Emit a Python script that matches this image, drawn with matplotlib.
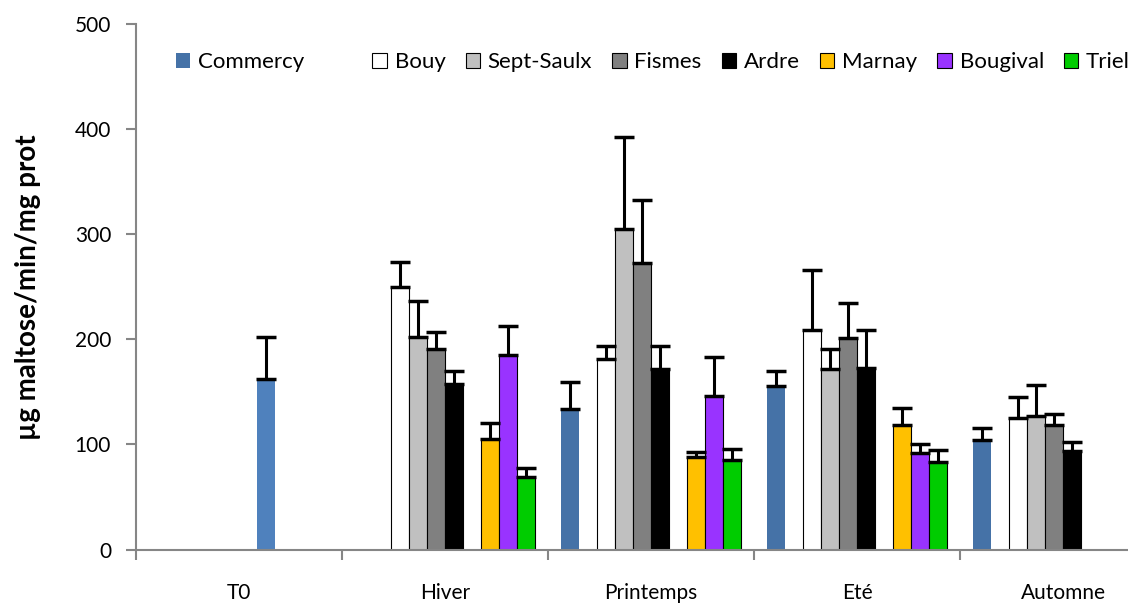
import numpy as np
import matplotlib
matplotlib.use("Agg")
import matplotlib.pyplot as plt
from matplotlib.patches import Patch

plt.rcParams['font.family'] = ['Lato', 'DejaVu Sans']

# Data
categories = ['T0', 'Hiver', 'Printemps', 'Eté', 'Automne']
nan = np.nan

t0_vals = [162, nan, nan, nan, nan]
t0_err = [40, nan, nan, nan, nan]

commercy = [nan, nan, 134, 156, 104]
commercy_err = [nan, nan, 25, 14, 12]
bouy = [nan, 250, 181, 209, 125]
bouy_err = [nan, 24, 13, 57, 20]
sept_saulx = [nan, 202, 305, 172, 127]
sept_saulx_err = [nan, 35, 88, 19, 30]
fismes = [nan, 191, 273, 201, 119]
fismes_err = [nan, 16, 60, 34, 10]
ardre = [nan, 158, 172, 173, 94]
ardre_err = [nan, 12, 22, 36, 8]
marnay = [nan, 105, 88, 119, nan]
marnay_err = [nan, 15, 5, 16, nan]
bougival = [nan, 185, 146, 92, nan]
bougival_err = [nan, 28, 37, 8, nan]
triel = [nan, 69, 85, 83, nan]
triel_err = [nan, 9, 11, 12, nan]

# (label, values, errors, colour, edge, slot) - 10 slots per category, slot 1 empty
series = [
    ('Commercy', commercy, commercy_err, '#4572A7', 'none', 0),
    ('Bouy', bouy, bouy_err, '#FFFFFF', 'black', 2),
    ('Sept-Saulx', sept_saulx, sept_saulx_err, '#C0C0C0', 'black', 3),
    ('Fismes', fismes, fismes_err, '#808080', 'black', 4),
    ('Ardre', ardre, ardre_err, '#000000', 'black', 5),
    ('T0', t0_vals, t0_err, '#4F81BD', 'none', 6),
    ('Marnay', marnay, marnay_err, '#FFC000', 'black', 7),
    ('Bougival', bougival, bougival_err, '#9933FF', 'black', 8),
    ('Triel', triel, triel_err, '#00CC00', 'black', 9),
]

fig = plt.figure(figsize=(11.28, 6.03), dpi=100)
ax = fig.add_axes([0.1206, 0.0887, 0.9131, 0.871])

x = np.arange(len(categories))
w = 18 / 206
handles = {}
for label, vals, errs, col, edge, slot in series:
    vals = np.array(vals, dtype=float)
    errs = np.array(errs, dtype=float)
    pos = x + (slot - 4.5) * w
    bars = ax.bar(pos, vals, w, color=col, edgecolor=edge, linewidth=0.8,
                  yerr=[np.zeros_like(errs), errs],
                  error_kw=dict(ecolor='black', elinewidth=2.2, capsize=7, capthick=2.5),
                  zorder=2)
    handles[label] = bars

ax.set_xlim(-0.5, len(categories) - 0.5)
ax.set_ylim(0, 500)
ax.set_yticks(np.arange(0, 501, 100))
ax.set_xticks(x)
ax.set_xticklabels(categories)
ax.set_xticks(np.arange(-0.5, len(categories), 1), minor=True)
ax.tick_params(axis='x', which='major', length=0, pad=24, labelsize=15)
ax.tick_params(axis='x', which='minor', length=7, width=1.5, color='#868686')
ax.tick_params(axis='y', length=7, width=1.5, color='#868686', pad=11, labelsize=15)

for s in ['top', 'right']:
    ax.spines[s].set_visible(False)
for s in ['left', 'bottom']:
    ax.spines[s].set_color('#868686')
    ax.spines[s].set_linewidth(1.5)

ax.set_ylabel('µg maltose/min/mg prot', fontsize=20, fontweight='bold', labelpad=24)

blank = Patch(facecolor='none', edgecolor='none')
leg_labels = ['Commercy', ' ', 'Bouy', 'Sept-Saulx', 'Fismes', 'Ardre', 'Marnay', 'Bougival', 'Triel']
leg_handles = [handles['Commercy'], blank] + [handles[n] for n in leg_labels[2:]]
ax.legend(leg_handles, leg_labels, ncol=9, frameon=False, loc='center left',
          bbox_to_anchor=(0.0388, 0.928), borderaxespad=0, borderpad=0,
          handlelength=0.65, handleheight=0.7, handletextpad=0.35,
          columnspacing=0.9, fontsize=16)

fig.savefig('out.png', dpi=100)
